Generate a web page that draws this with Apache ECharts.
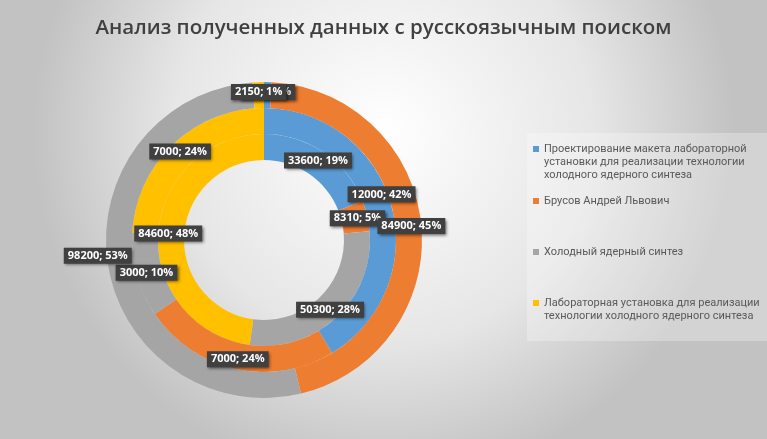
<!DOCTYPE html>
<html>
<head>
<meta charset="utf-8">
<script src="https://cdn.jsdelivr.net/npm/echarts@6/dist/echarts.min.js"></script>
<style>
html,body{margin:0;padding:0;}
#chart{width:767px;height:439px;}
</style>
</head>
<body>
<div id="chart"></div>
<script>
// Categories (legend names)
const categories = [
  "Проектирование макета лабораторной\nустановки для реализации технологии\nхолодного ядерного синтеза",
  "Брусов Андрей Львович",
  "Холодный ядерный синтез",
  "Лабораторная установка для реализации\nтехнологии холодного ядерного синтеза"
];
const colors = ["#5B9BD5", "#ED7D31", "#A5A5A5", "#FFC000"];
// Series values (inner ring -> outer ring)
const innerValues  = [33600, 8310, 50300, 84600];
const middleValues = [12000, 7000, 3000, 7000];
const outerValues  = [1400, 84900, 98200, 2150];

const title = "Анализ полученных данных с русскоязычным поиском";

function toData(vals) {
  return vals.map((v, i) => ({ name: categories[i], value: v, itemStyle: { color: colors[i] } }));
}

const labelStyle = {
  show: true,
  position: 'inside',
  formatter: '{c}; {d}%',
  color: '#ffffff',
  fontFamily: 'Open Sans',
  fontWeight: 'bold',
  fontSize: 11,
  backgroundColor: '#404040',
  padding: [3, 4, 2, 4],
  shadowColor: 'rgba(0,0,0,0.55)',
  shadowBlur: 3,
  shadowOffsetX: 1.5,
  shadowOffsetY: 1.5
};

function ring(name, vals, r0, r1, layoutFn) {
  return {
    name: name,
    type: 'pie',
    center: [264, 240],
    radius: [r0, r1],
    startAngle: 90,
    clockwise: true,
    percentPrecision: 0,
    avoidLabelOverlap: false,
    label: labelStyle,
    labelLine: { show: false },
    emphasis: { scale: false },
    itemStyle: { borderWidth: 0 },
    labelLayout: layoutFn,
    data: toData(vals)
  };
}

const lineH = 13;
function legendFor(i, iconY) {
  const n = categories[i].split('\n').length;
  const total = 2 * n - 1;
  return {
    orient: 'vertical',
    left: 533,
    padding: 0,
    itemWidth: 6,
    itemHeight: 6,
    itemGap: 0,
    icon: 'rect',
    selectedMode: false,
    top: iconY - (total * lineH) / 2,
    data: [categories[i]],
    formatter: name => '\n'.repeat(n - 1) + name,
    textStyle: {
      color: '#595959',
      fontFamily: 'Roboto',
      fontSize: 11,
      lineHeight: lineH
    }
  };
}

const chart = echarts.init(document.getElementById('chart'), null, { renderer: 'canvas' });
chart.setOption({
  animation: false,
  backgroundColor: {
    type: 'radial', x: 0.5, y: 0.3, r: 0.8,
    colorStops: [
      { offset: 0, color: '#ffffff' },
      { offset: 0.6, color: '#e6e6e6' },
      { offset: 1, color: '#c2c2c2' }
    ]
  },
  title: {
    text: title,
    left: 'center',
    top: 13,
    textStyle: { color: '#404040', fontFamily: 'Open Sans', fontWeight: 600, fontSize: 20.5 }
  },
  graphic: [{
    type: 'rect', silent: true, z: -1,
    shape: { x: 527, y: 133, width: 240, height: 208 },
    style: { fill: 'rgba(255,255,255,0.28)' }
  }],
  legend: [
    legendFor(0, 149),
    legendFor(1, 201),
    legendFor(2, 252),
    legendFor(3, 303)
  ],
  series: [
    ring('inner', innerValues, 80, 106),
    ring('middle', middleValues, 106, 132, p => (p.dataIndex === 0 ? { dy: -13 } : {})),
    ring('outer', outerValues, 132, 158, p => (p.dataIndex === 2 ? { dx: -20, dy: -7 } : {}))
  ]
});
</script>
</body>
</html>
